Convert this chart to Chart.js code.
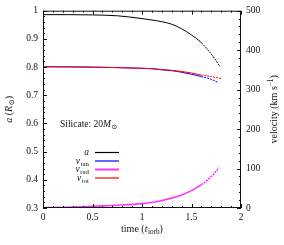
<!DOCTYPE html>
<html>
<head>
<meta charset="utf-8">
<script src="https://cdn.jsdelivr.net/npm/chart.js@4.4.1/dist/chart.umd.min.js"></script>
<style>
  html, body { margin: 0; padding: 0; background: #fff; }
  #wrap { width: 284px; height: 245px; position: relative; }
</style>
</head>
<body>
<div id="wrap"><canvas id="chart"></canvas></div>
<script>
// values
const tA = [0, 0.25, 0.5, 0.75, 1.0, 1.1, 1.2, 1.3, 1.4, 1.5, 1.6, 1.7, 1.79];
const sepA = [0.986, 0.986, 0.985, 0.982, 0.972, 0.967, 0.961, 0.952, 0.936, 0.914, 0.886, 0.846, 0.801];

const tTot = [0, 0.5, 1.0, 1.1, 1.2, 1.3, 1.4, 1.5, 1.6, 1.7, 1.8];
const vTot = [358, 357, 354, 353, 351, 349, 346, 342, 337, 333, 328];

const tTan = [0, 0.5, 1.0, 1.1, 1.2, 1.3, 1.4, 1.5, 1.6, 1.7, 1.77];
const vTan = [358, 357, 354, 353, 350, 348, 344, 339, 333, 326, 318];

const tRad = [0, 0.25, 0.5, 0.75, 1.0, 1.1, 1.2, 1.3, 1.4, 1.5, 1.6, 1.7, 1.78];
const vRad = [1, 2, 4, 7, 11, 14, 19, 25, 33, 44, 59, 80, 102];

const xTicks = [0, 0.5, 1, 1.5, 2];
const leftTicks = [0.3, 0.4, 0.5, 0.6, 0.7, 0.8, 0.9, 1];
const rightTicks = [0, 100, 200, 300, 400, 500];

const SERIF = "'Liberation Serif', 'DejaVu Serif', serif";
const FS = 9.5;

function pts(xs, ys) { return xs.map((x, i) => ({ x, y: ys[i] })); }

// tail of the curves is drawn as loose points in the reference
const tailDash = { borderDash: (c) => (c.p0.parsed.x >= 1.6 ? [2, 1] : undefined) };

function ds(label, xs, ys, color, axis, width) {
  return {
    label, data: pts(xs, ys), yAxisID: axis,
    borderColor: color, backgroundColor: color,
    borderWidth: width, pointRadius: 0, cubicInterpolationMode: "monotone", segment: tailDash,
  };
}

// rich text: segments {t, it, sub, sup}
function drawRich(ctx, segs, x, y, align, size) {
  const fs = size || FS;
  const measure = (s) => {
    ctx.font = (s.it ? "italic " : "") + (s.sub || s.sup ? fs * 0.72 : fs) + "px " + SERIF;
    return ctx.measureText(s.t).width + (s.sub ? 0.6 : 0);
  };
  const total = segs.reduce((w, s) => w + measure(s), 0);
  let cx = align === "center" ? x - total / 2 : align === "right" ? x - total : x;
  ctx.textAlign = "left";
  ctx.textBaseline = "alphabetic";
  segs.forEach((s) => {
    const w = measure(s);
    const dy = s.sub ? 2 : s.sup ? -3.6 : 0;
    ctx.fillText(s.t, cx + (s.sub ? 0.6 : 0), y + dy);
    cx += w;
  });
}

const ticksPlugin = {
  id: "frameTicks",
  afterDatasetsDraw(chart) {
    const { ctx, chartArea: a, scales } = chart;
    ctx.save();
    ctx.strokeStyle = "#111";
    ctx.lineWidth = 1;
    ctx.strokeRect(a.left + 0.5, a.top + 0.5, a.right - a.left - 1, a.bottom - a.top - 1);
    ctx.beginPath();
    const tick = (v, major, sc, side) => {
      const len = major ? 4 : 2;
      const p = Math.round(sc.getPixelForValue(v)) + 0.5;
      if (side === "bottom") { ctx.moveTo(p, a.bottom); ctx.lineTo(p, a.bottom - len); }
      if (side === "top") { ctx.moveTo(p, a.top); ctx.lineTo(p, a.top + len); }
      if (side === "left") { ctx.moveTo(a.left, p); ctx.lineTo(a.left + len, p); }
      if (side === "right") { ctx.moveTo(a.right, p); ctx.lineTo(a.right - len, p); }
    };
    for (let i = 0; i <= 20; i++) {
      const v = i / 10;
      tick(v, i % 5 === 0, scales.x, "bottom");
      tick(v, i % 5 === 0, scales.x, "top");
    }
    for (let i = 0; i <= 35; i++) tick(0.3 + i * 0.02, i % 5 === 0, scales.y, "left");
    for (let i = 0; i <= 25; i++) tick(i * 20, i % 5 === 0, scales.y2, "right");
    ctx.stroke();

    ctx.fillStyle = "#111";
    // axis titles
    drawRich(ctx, [{ t: "time (" }, { t: "t", it: true }, { t: "iorb", sub: true }, { t: ")" }],
      (a.left + a.right) / 2, 232, "center", 10);
    ctx.save();
    ctx.translate(12, (a.top + a.bottom) / 2);
    ctx.rotate(-Math.PI / 2);
    drawRich(ctx, [{ t: "a", it: true }, { t: " (" }, { t: "R", it: true }, { t: "⊙", sub: true }, { t: ")" }], 0, 0, "center", 10);
    ctx.restore();
    ctx.save();
    ctx.translate(277, (a.top + a.bottom) / 2);
    ctx.rotate(-Math.PI / 2);
    drawRich(ctx, [{ t: "velocity (km s" }, { t: "−1", sup: true }, { t: ")" }], 0, 0, "center", 10);
    ctx.restore();

    // annotation
    drawRich(ctx, [{ t: "Silicate: 20" }, { t: "M", it: true }, { t: "⊙", sub: true }], 60, 127, "left");

    // legend: a, v_tan, v_rad, v_tot
    const names = [
      [{ t: "a", it: true }],
      [{ t: "v", it: true }, { t: "tan", sub: true }],
      [{ t: "v", it: true }, { t: "rad", sub: true }],
      [{ t: "v", it: true }, { t: "tot", sub: true }],
    ];
    const order = [0, 3, 1, 2];
    const rows = [152.5, 161, 169.5, 178];
    order.forEach((di, r) => {
      const d = chart.data.datasets[di];
      ctx.fillStyle = "#111";
      drawRich(ctx, names[r], 89, rows[r] + 2.5, "right");
      ctx.strokeStyle = d.borderColor;
      ctx.lineWidth = r === 2 ? 2 : 1.2;
      ctx.beginPath();
      ctx.moveTo(95, rows[r]);
      ctx.lineTo(119, rows[r]);
      ctx.stroke();
    });
    ctx.restore();
  },
};

const tickFont = { family: SERIF, size: FS };

new Chart(document.getElementById("chart"), {
  type: "line",
  data: {
    datasets: [
      ds("a", tA, sepA, "#000000", "y", 1),
      ds("v_rad", tRad, vRad, "#ff33ff", "y2", 1.6),
      ds("v_tot", tTot, vTot, "#ff0000", "y2", 1),
      ds("v_tan", tTan, vTan, "#0000ff", "y2", 1),
    ],
  },
  plugins: [ticksPlugin],
  options: {
    responsive: true,
    maintainAspectRatio: false,
    animation: false,
    layout: { padding: { top: 10, left: 0, right: 0, bottom: 0 } },
    plugins: { legend: { display: false }, tooltip: { enabled: false } },
    scales: {
      x: {
        type: "linear", min: 0, max: 2,
        afterBuildTicks: (s) => { s.ticks = xTicks.map((v) => ({ value: v })); },
        afterFit: (s) => { s.height = 37; },
        grid: { display: false, drawTicks: false },
        border: { display: false },
        ticks: { font: tickFont, color: "#111", padding: 4, maxRotation: 0, callback: (v) => String(v) },
      },
      y: {
        position: "left", min: 0.3, max: 1,
        afterBuildTicks: (s) => { s.ticks = leftTicks.map((v) => ({ value: v })); },
        afterFit: (s) => { s.width = 43; },
        grid: { display: false, drawTicks: false },
        border: { display: false },
        ticks: { font: tickFont, color: "#111", padding: 5, callback: (v) => String(+v.toFixed(1)) },
      },
      y2: {
        position: "right", min: 0, max: 500,
        afterBuildTicks: (s) => { s.ticks = rightTicks.map((v) => ({ value: v })); },
        afterFit: (s) => { s.width = 43; },
        grid: { display: false, drawTicks: false },
        border: { display: false },
        ticks: { font: tickFont, color: "#111", padding: 5, callback: (v) => String(v) },
      },
    },
  },
});
</script>
</body>
</html>
